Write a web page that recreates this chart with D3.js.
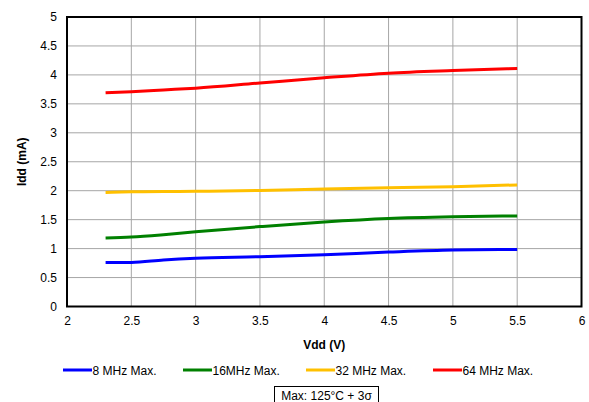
<!DOCTYPE html>
<html><head><meta charset="utf-8">
<script src="https://cdn.jsdelivr.net/npm/d3@7"></script>
<style>body{margin:0;background:#fff}svg{display:block;font-family:"Liberation Sans",Arial,sans-serif}</style>
</head><body>
<script>
const vdd = [2.3, 2.5, 2.75, 3, 3.5, 4, 4.5, 5, 5.5];
const mhz8  = [0.76, 0.762, 0.805, 0.835, 0.86, 0.895, 0.94, 0.975, 0.985];
const mhz16 = [1.185, 1.20, 1.24, 1.29, 1.38, 1.46, 1.52, 1.55, 1.565];
const mhz32 = [1.97, 1.98, 1.985, 1.99, 2.005, 2.03, 2.05, 2.07, 2.10];
const mhz64 = [3.69, 3.71, 3.74, 3.77, 3.86, 3.95, 4.03, 4.075, 4.11];
const seriesNames = ["8 MHz Max.", "16MHz Max.", "32 MHz Max.", "64 MHz Max."];
const seriesColors = ["#0000ff", "#008000", "#ffc000", "#ff0000"];
const xTicks = [2, 2.5, 3, 3.5, 4, 4.5, 5, 5.5, 6];
const yTicks = [0, 0.5, 1, 1.5, 2, 2.5, 3, 3.5, 4, 4.5, 5];
const xTitle = "Vdd (V)", yTitle = "Idd (mA)", note = "Max: 125°C + 3σ";
const allSeries = [mhz8, mhz16, mhz32, mhz64];

const W = 589, H = 402;
const m = {l: 67, r: 581.5, t: 17, b: 306.5};
const svg = d3.select("body").append("svg").attr("width", W).attr("height", H);
const x = d3.scaleLinear().domain([2, 6]).range([m.l, m.r]);
const y = d3.scaleLinear().domain([0, 5]).range([m.b, m.t]);

// grid
svg.append("g").selectAll("line").data(xTicks).join("line")
  .attr("x1", d => x(d)).attr("x2", d => x(d)).attr("y1", m.t).attr("y2", m.b)
  .attr("stroke", "#a6a6a6").attr("stroke-width", 1);
svg.append("g").selectAll("line").data(yTicks).join("line")
  .attr("y1", d => y(d)).attr("y2", d => y(d)).attr("x1", m.l).attr("x2", m.r)
  .attr("stroke", "#a6a6a6").attr("stroke-width", 1);

// axes labels via d3 axes
const xAxis = svg.append("g").attr("transform", `translate(0,${m.b})`)
  .call(d3.axisBottom(x).tickValues(xTicks).tickSize(0).tickPadding(10).tickFormat(d3.format("")));
const yAxis = svg.append("g").attr("transform", `translate(${m.l},0)`)
  .call(d3.axisLeft(y).tickValues(yTicks).tickSize(0).tickPadding(10).tickFormat(d3.format("")));
[xAxis, yAxis].forEach(a => {
  a.select(".domain").remove();
  a.selectAll("text").attr("font-size", 12).attr("fill", "#000").attr("font-family", "Liberation Sans, Arial, sans-serif");
});

// border
svg.append("rect").attr("x", m.l).attr("y", m.t).attr("width", m.r - m.l).attr("height", m.b - m.t)
  .attr("fill", "none").attr("stroke", "#000").attr("stroke-width", 2);

// lines
const line = d3.line().x((d, i) => x(vdd[i])).y(d => y(d)).curve(d3.curveMonotoneX);
allSeries.forEach((s, k) => {
  svg.append("path").datum(s).attr("d", line).attr("fill", "none")
    .attr("stroke", seriesColors[k]).attr("stroke-width", 3).attr("stroke-linecap", "butt");
});

// titles
svg.append("text").attr("x", (m.l + m.r) / 2).attr("y", 349).attr("text-anchor", "middle")
  .attr("font-size", 12).attr("font-weight", "bold").text(xTitle);
svg.append("text").attr("transform", `translate(26,${(m.t + m.b) / 2}) rotate(-90)`)
  .attr("text-anchor", "middle").attr("font-size", 12).attr("font-weight", "bold").text(yTitle);

// legend
const legX = [63, 183, 306, 433];
seriesNames.forEach((n, k) => {
  svg.append("line").attr("x1", legX[k]).attr("x2", legX[k] + 29).attr("y1", 370).attr("y2", 370)
    .attr("stroke", seriesColors[k]).attr("stroke-width", 3);
  svg.append("text").attr("x", legX[k] + 29.5).attr("y", 374.5).attr("font-size", 12).text(n);
});

// note box
svg.append("rect").attr("x", 274.5).attr("y", 386.5).attr("width", 104).attr("height", 20)
  .attr("fill", "#fff").attr("stroke", "#000").attr("stroke-width", 1);
svg.append("text").attr("x", 326.5).attr("y", 400).attr("text-anchor", "middle").attr("font-size", 12).text(note);
</script>
</body></html>
